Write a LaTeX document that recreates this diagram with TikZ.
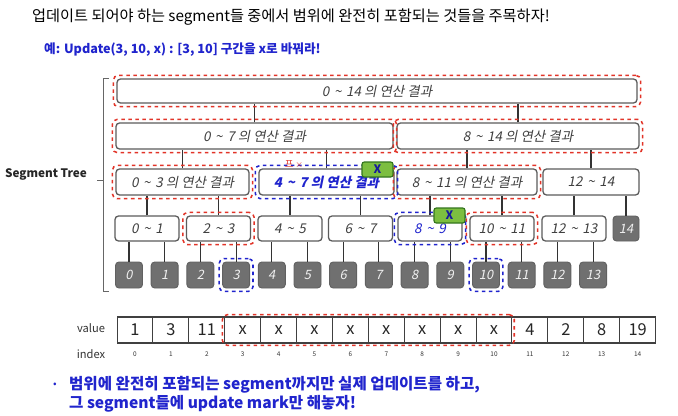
\documentclass[tikz,border=0pt]{standalone}
\usepackage{fontspec}
\setmainfont{Noto Sans CJK KR}
\newfontfamily\kr{Noto Sans CJK KR}
\newfontfamily\krit[FakeSlant=0.2]{Noto Sans CJK KR}
\usetikzlibrary{fit}
\definecolor{redmark}{RGB}{226,52,40}
\definecolor{bluemark}{RGB}{32,36,205}
\definecolor{boxgray}{RGB}{92,92,92}
\definecolor{leafgray}{RGB}{112,112,112}
\definecolor{markgreen}{RGB}{124,190,64}
\definecolor{markedge}{RGB}{52,118,30}
\newcommand\rng[2]{#1\hspace{.35em}\textasciitilde\hspace{.35em}#2}
\tikzset{
	sz/.style 2 args={minimum width=#1*0.03cm,minimum height=#2*0.03cm},
	seg/.style={draw=boxgray,line width=1.1pt,rounded corners=3pt,fill=white,inner sep=0pt,
		font=\krit\fontsize{11.5}{13}\selectfont,text=black!75},
	leaf/.style={draw=black!62,line width=.8pt,fill=leafgray,rounded corners=3pt,inner sep=0pt,
		sz={27}{26},font=\krit\fontsize{11}{12}\selectfont,text=white!88!gray},
	redbox/.style={draw=redmark,dashed,line width=1.3pt,rounded corners=4pt,inner sep=2.5pt},
	bluebox/.style={draw=bluemark,dashed,line width=1.3pt,rounded corners=4pt,inner sep=2.5pt},
	updmark/.style={draw=markedge,line width=1pt,fill=markgreen,rounded corners=2pt,inner sep=0pt,
		sz={31}{15},font=\kr\bfseries\fontsize{10}{10}\selectfont,text=bluemark!75!black},
	link/.style={draw=black!80,line width=.9pt},
	cell/.style={draw=black!75,line width=.9pt,sz={35.9}{26},inner sep=0pt,
		font=\kr\fontsize{14}{14}\selectfont,text=black!85},
	idx/.style={font=\kr\fontsize{5.5}{6}\selectfont,text=black!80},
	lbl/.style={font=\kr\fontsize{9.5}{10}\selectfont,text=black!80},
}
\begin{document}
\begin{tikzpicture}[x=0.03cm,y=-0.03cm]
\useasboundingbox[fill=white] (0,0) rectangle (678,415);

%	\draw[step=10,gray,very thin] (0,0) grid (678,415);

	\node (title) at (28,17) [anchor=west,font=\kr\fontsize{13}{14}\selectfont,text=black] {업데이트 되어야 하는 segment들 중에서 범위에 완전히 포함되는 것들을 주목하자!};
	\node (ex) at (40,50) [anchor=west,font=\kr\bfseries\fontsize{10.8}{12}\selectfont,text=bluemark] {예: Update(3, 10, x) : [3, 10] 구간을 x로 바꿔라!};

	\node (stree) at (46,174) [font=\kr\bfseries\fontsize{10}{11}\selectfont,text=black!85] {Segment Tree};
	\draw[black!60,line width=.6pt] (109,78) -- (103,78) -- (103,291) -- (109,291);
	\draw[black!60,line width=.6pt] (103,180) -- (97,180);

	\node (r) at (377,91) [seg,sz={520}{24}] {\rng{0}{14} 의 연산 결과};
	\node (s07) at (254.5,136) [seg,sz={277}{26}] {\rng{0}{7} 의 연산 결과};
	\node (s814) at (518,136) [seg,sz={242}{26}] {\rng{8}{14} 의 연산 결과};
	\node (s03) at (182.5,182) [seg,sz={133}{26}] {\rng{0}{3} 의 연산 결과};
	\node (s47) at (326.5,182) [seg,sz={135}{26},font=\krit\bfseries\fontsize{11.5}{13}\selectfont,text=bluemark] {\rng{4}{7} 의 연산 결과};
	\node (s811) at (467,182) [seg,sz={140}{26}] {\rng{8}{11} 의 연산 결과};
	\node (s1214) at (591,182) [seg,sz={96}{26}] {\rng{12}{14}};

	\node (s01) at (147,228.5) [seg,sz={64}{25}] {\rng{0}{1}};
	\node (s23) at (218.5,228.5) [seg,sz={64}{25}] {\rng{2}{3}};
	\node (s45) at (290,228.5) [seg,sz={64}{25}] {\rng{4}{5}};
	\node (s67) at (360.5,228.5) [seg,sz={64}{25}] {\rng{6}{7}};
	\node (s89) at (430,228.5) [seg,sz={64}{25},text=bluemark] {\rng{8}{9}};
	\node (s1011) at (502,228.5) [seg,sz={64}{25}] {\rng{10}{11}};
	\node (s1213) at (574,228.5) [seg,sz={64}{25}] {\rng{12}{13}};
	\node (l14) at (626,228.5) [leaf,sz={26}{25}] {14};
	\foreach \i in {0,...,13}
		\node (l\i) at ({129+35.7*\i},275) [leaf] {\i};

	\foreach \c/\p in {s07/r,s814/r,s03/s07,s47/s07,s811/s814,s1214/s814,s01/s03,s23/s03,s45/s47,s67/s47,
		s89/s811,s1011/s811,s1213/s1214,l14/s1214,l0/s01,l1/s01,l2/s23,l3/s23,l4/s45,l5/s45,l6/s67,l7/s67,
		l8/s89,l9/s89,l10/s1011,l11/s1011,l12/s1213,l13/s1213}
		\draw[link] (\c.north) -- (\c.north |- \p.south);

	\foreach \n in {r,s07,s814,s03,s811,s23,s1011}
		\node (\n-red) [redbox,fit=(\n)] {};
	\foreach \n in {s47,s89,l3,l10}
		\node (\n-blue) [bluebox,fit=(\n)] {};

	\node (mk47) at (377.5,169.5) [updmark] {X};
	\node (mk89) at (449.5,215.5) [updmark] {X};
	\node (scrib) at (294,165) [text=redmark,font=\kr\fontsize{8}{8}\selectfont] {프 $\times$};

	\node (value) at (91,328) [lbl] {value};
	\node (index) at (91,354) [lbl] {index};
	\foreach \v [count=\i from 0] in {1,3,11,x,x,x,x,x,x,x,x,4,2,8,19} {
		\node (c\i) at ({135+35.9*\i},330) [cell] {\v};
		\node (ix\i) at ({135+35.9*\i},354) [idx] {\i};
	}
	\node (xs-red) [redbox,fit=(c3)(c10),inner sep=1.5pt] {};

	\node (bullet) at (55,385) [text=bluemark,font=\kr\fontsize{9}{9}\selectfont] {•};
	\node (note) at (65,394) [anchor=west,align=left,text=bluemark,font=\kr\bfseries\fontsize{13.3}{16}\selectfont] {범위에 완전히 포함되는 segment까지만 실제 업데이트를 하고,\\그 segment들에 update mark만 해놓자!};

\end{tikzpicture}
\end{document}
